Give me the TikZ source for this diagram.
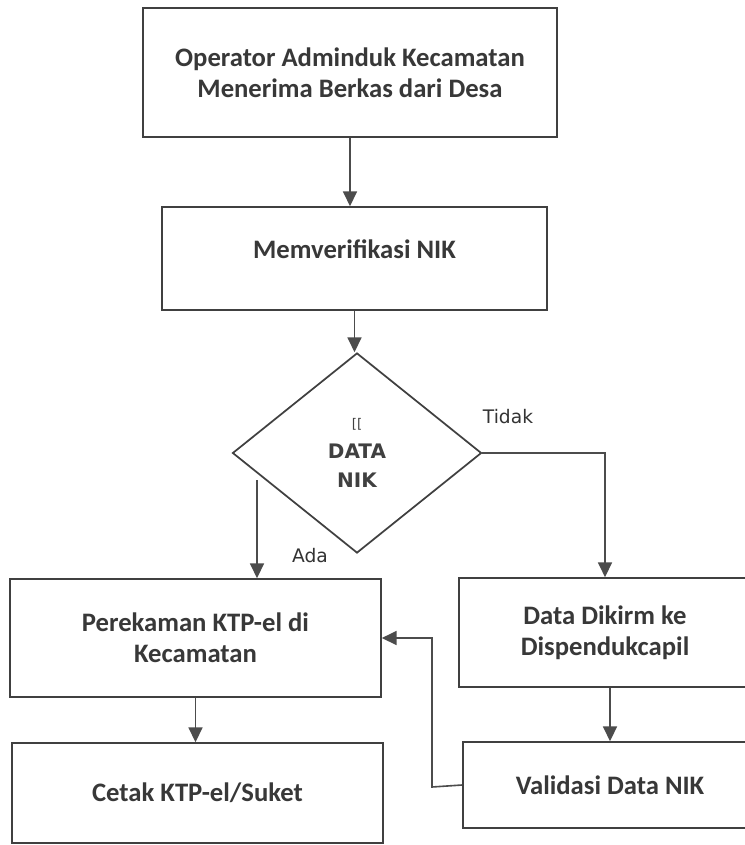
\documentclass[tikz,border=0pt]{standalone}
\usepackage{fontspec}
\setmainfont{Carlito}
\newfontfamily\verdanaish{DejaVu Sans}
\usetikzlibrary{shapes,arrows,arrows.meta}
\usetikzlibrary{shapes.geometric}

\begin{document}
\begin{tikzpicture}[x=0.75pt,y=-0.75pt,
        box/.style={draw=black!75,line width=1.3pt,fill=white,align=center,
            text=black!78,font=\fontsize{20}{23.5}\selectfont\bfseries,inner sep=0pt},
        decision/.style={diamond,draw=black!75,line width=1.3pt,align=center,inner sep=0pt,
            text=black!75,font=\verdanaish\fontsize{15}{22}\selectfont\bfseries},
        lbl/.style={text=black!80,font=\verdanaish\fontsize{14}{16}\selectfont},
        >={Triangle[length=11pt,width=10.5pt]},
        flow/.style={draw=black!70,line width=1.2pt,->}
        ]
        \useasboundingbox[fill=white] (0,0) rectangle (745,845);

        \node[box,minimum width=310.5pt,minimum height=96.75pt] (opr) at (350,72.5)
            {Operator Adminduk Kecamatan\\Menerima Berkas dari Desa};
        \node[box,minimum width=288.75pt,minimum height=77.25pt,text depth=14pt] (ver) at (354.5,258.5)
            {Memverifikasi NIK};
        \node[decision,minimum width=186.75pt,minimum height=150pt] (dat) at (357,453)
            {{\fontsize{10}{10}\selectfont\mdseries [[}\\DATA\\NIK};

        \node[box,minimum width=278.25pt,minimum height=88.5pt] (rek) at (195.5,638)
            {Perekaman KTP-el di\\Kecamatan};
        \node[box,minimum width=278.25pt,minimum height=75pt] (cetak) at (197.5,793)
            {Cetak KTP-el/Suket};
        \node[box,minimum width=219pt,minimum height=81.75pt] (kirim) at (605,632.5)
            {Data Dikirm ke\\Dispendukcapil};
        \node[box,minimum width=220.5pt,minimum height=64.5pt] (val) at (610,785)
            {Validasi Data NIK};

        \node[lbl] (tidak) at (508,417) {Tidak};
        \node[lbl] (ada) at (310,556) {Ada};
        \coordinate (adastart) at (257,480);
        \coordinate (balik) at (432,787);

        \draw[flow] (opr.south) -- (opr.south |- ver.north);
        \draw[flow] (ver.south) -- (ver.south |- dat.north);
        \draw[flow] (dat.east) -| (kirim.north);
        \draw[flow] (adastart) -- (adastart |- rek.north);
        \draw[flow] (rek.south) -- (rek.south |- cetak.north);
        \draw[flow] (val.north |- kirim.south) -- (val.north);
        \draw[flow] (val.west) -- (balik) |- (rek.east);

    \end{tikzpicture}
\end{document}
